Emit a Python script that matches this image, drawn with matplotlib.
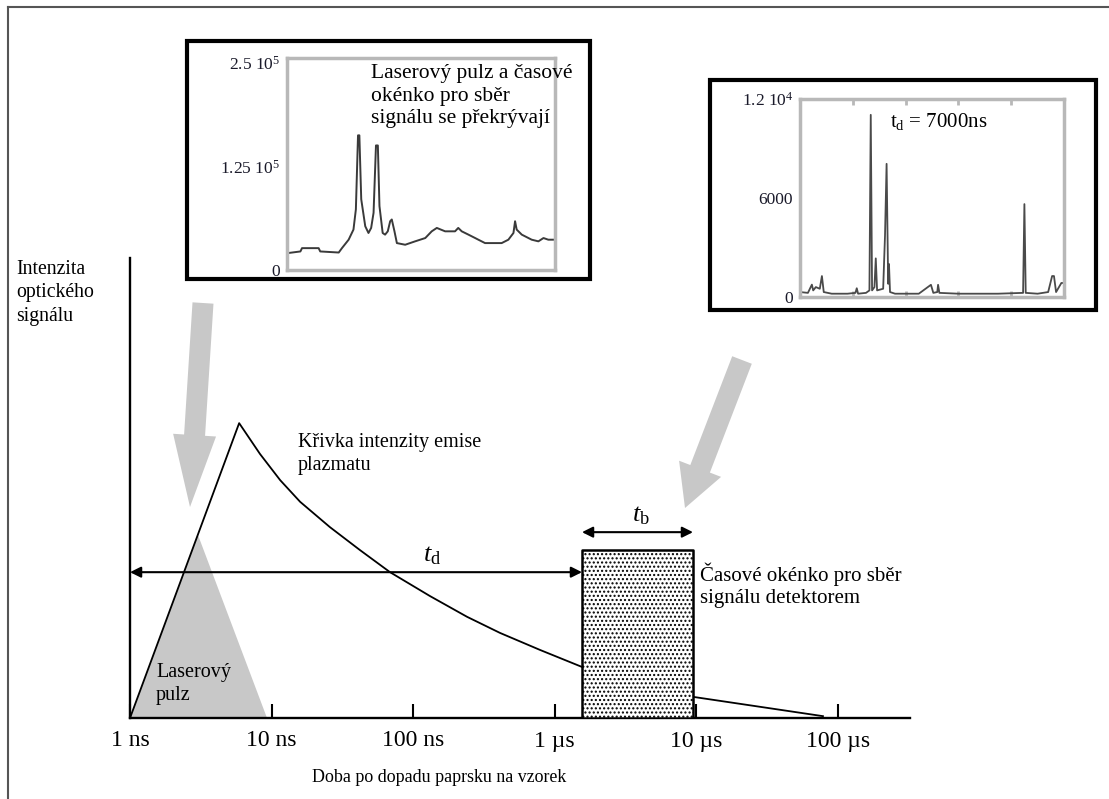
import matplotlib
matplotlib.use('Agg')
import matplotlib.pyplot as plt
import matplotlib.patches as mpatches
from matplotlib.ticker import NullLocator

plt.rcParams['font.family'] = ['Liberation Serif', 'DejaVu Serif']
plt.rcParams['mathtext.fontset'] = 'custom'
plt.rcParams['mathtext.rm'] = 'Liberation Serif'
plt.rcParams['mathtext.it'] = 'Liberation Serif:italic'
plt.rcParams['hatch.linewidth'] = 1.0

# --- hlavni schema: cas (ns, log) vs intenzita (rel.) ---
time_ticks = [1, 10, 100, 1000, 10000, 100000]
time_labels = ['1 ns', '10 ns', '100 ns', '1 µs', '10 µs', '100 µs']

plasma_t = [1, 5.9, 8.28, 11.5, 15.9, 25.8, 42.1, 68.6, 131.5, 240, 410, 786, 1556, 9460, 78300]
plasma_i = [0, 0.641, 0.574, 0.517, 0.470, 0.415, 0.365, 0.317, 0.265, 0.220, 0.185, 0.148,
            0.111, 0.046, 0.004]

laser_t = [1, 3.02, 9.28]
laser_i = [0, 0.398, 0]

gate_t = [1556, 9460]
gate_h = 0.365
td_level = 0.317
tb_level = 0.404

# --- vlozene spektrum vlevo (v tisicich) ---
spec1_x = [0, 5.0, 5.6, 11.8, 12.4, 19.3, 20.5, 23.0, 24.8, 25.7, 26.5, 27.0, 27.7, 29.2,
           30.4, 31.4, 32.3, 33.2, 33.9, 34.5, 35.7, 36.6, 37.6, 38.5, 39.1, 40.1, 41.0,
           44.1, 47.8, 51.6, 54.0, 55.9, 59.0, 62.7, 63.9, 65.2, 67.7, 70.2, 71.4, 73.9,
           80.1, 82.6, 84.5, 85.1, 85.7, 87.6, 91.3, 93.8, 95.7, 97.5, 100]
spec1_y = [20.3, 22.4, 26.4, 26.4, 22.4, 21.1, 26.4, 36.6, 48.8, 73.2, 162.6, 162.6, 85.4, 52.8,
           44.7, 50.8, 69.1, 150.4, 150.4, 77.2, 44.7, 42.7, 46.7, 58.9, 61.0, 46.7, 32.5,
           30.5, 34.6, 38.6, 46.7, 50.8, 46.7, 46.7, 50.8, 46.7, 42.7, 38.6, 36.6, 32.5,
           32.5, 36.6, 44.7, 58.9, 48.8, 42.7, 36.6, 34.6, 38.6, 36.6, 36.6]
spec1_ticks = [0, 125, 250]
spec1_labels = ['0', '1.25 $10^5$', '2.5 $10^5$']

# --- vlozene spektrum vpravo ---
spec2_x = [0, 3, 4.5, 5, 6, 7.5, 8.3, 9, 12, 18, 21, 21.5, 22, 25, 26.3, 26.8, 27.3, 28.2,
           28.7, 29.2, 31.5, 32.2, 32.8, 33.4, 33.7, 34.1, 36, 45, 49.6, 50.5, 52, 52.3,
           52.8, 60, 75, 84.5, 85, 85.5, 90, 94, 95.5, 96.2, 97, 99, 99.6, 100]
spec2_y = [300, 250, 750, 400, 600, 500, 1270, 300, 200, 200, 250, 530, 200, 250, 400,
           11040, 400, 600, 2340, 400, 500, 3720, 8070, 800, 2000, 300, 200, 200, 740, 250,
           300, 740, 250, 200, 200, 250, 5630, 250, 200, 300, 1270, 1270, 300, 850, 850, 850]
spec2_ticks = [0, 6000, 12000]
spec2_labels = ['0', '6000', '1.2 $10^4$']

W, H = 1109, 799
fig = plt.figure(figsize=(W / 100, H / 100), dpi=100)


def px_axes(x0, y0, x1, y1, **kw):
    return fig.add_axes([x0 / W, 1 - y1 / H, (x1 - x0) / W, (y1 - y0) / H], **kw)


# pozadi: sede sipky
back = px_axes(0, 0, W, H, zorder=0)
back.set_xlim(0, W)
back.set_ylim(H, 0)
back.axis('off')
back.add_patch(mpatches.FancyArrow(203, 303, 190 - 203, 507 - 303, width=21, head_width=43,
                                   head_length=72, length_includes_head=True,
                                   color='#c8c8c8', lw=0))
back.add_patch(mpatches.FancyArrow(742, 360, 685 - 742, 508 - 360, width=21, head_width=45,
                                   head_length=42, length_includes_head=True,
                                   color='#c8c8c8', lw=0))

# hlavni osy
ax = px_axes(130, 258, 910, 718, zorder=1)
ax.patch.set_alpha(0)
ax.set_xscale('log')
ax.set_xlim(1, 10 ** (780 / 141.6))
ax.set_ylim(0, 1)
ax.fill(laser_t, laser_i, color='#c8c8c8', lw=0, zorder=1)
ax.plot(plasma_t, plasma_i, color='black', lw=1.3, zorder=2)
ax.fill_between(gate_t, 0, gate_h, facecolor='white', edgecolor='black', hatch='....',
                lw=1.8, zorder=3)
arrow_kw = dict(arrowstyle='<|-|>', color='black', lw=1.5, mutation_scale=16, shrinkA=0, shrinkB=0)
ax.annotate('', xy=(1, td_level), xytext=(gate_t[0], td_level), arrowprops=arrow_kw,
            annotation_clip=False)
ax.annotate('', xy=(gate_t[0], tb_level), xytext=(gate_t[1], tb_level), arrowprops=arrow_kw,
            annotation_clip=False)

ax.set_xticks(time_ticks, time_labels)
ax.xaxis.set_minor_locator(NullLocator())
ax.set_yticks([])
ax.tick_params(axis='x', direction='in', length=10, width=1.5, labelsize=17, pad=9)
for s in ['top', 'right']:
    ax.spines[s].set_visible(False)
for s in ['left', 'bottom']:
    ax.spines[s].set_linewidth(1.7)

# vlozene grafy
in1 = px_axes(287, 58, 555, 270, zorder=4)
in1.plot(spec1_x, spec1_y, color='#3a3a3a', lw=1.4)
in1.set_xlim(0, 100)
in1.set_ylim(0, 256)
in1.set_xticks([])
in1.set_yticks(spec1_ticks, spec1_labels)

in2 = px_axes(800, 99, 1064, 297, zorder=4)
in2.plot(spec2_x, spec2_y, color='#4a4a4a', lw=1.3)
in2.set_xlim(0, 100)
in2.set_ylim(0, 12000)
in2.set_xticks([20, 40, 60, 80])
in2.set_xticklabels([])
in2.set_yticks(spec2_ticks, spec2_labels)

for a in (in1, in2):
    for s in a.spines.values():
        s.set_color('#b8b8b8')
        s.set_linewidth(2.5)
    a.tick_params(axis='y', length=0, pad=5, labelsize=12.5, labelcolor='#1a1a2a')
    a.tick_params(axis='x', length=4, width=2, color='#b8b8b8', direction='in', top=True)

# popisky a ramecky
front = px_axes(0, 0, W, H, zorder=5)
front.set_xlim(0, W)
front.set_ylim(H, 0)
front.axis('off')
front.patch.set_alpha(0)

front.plot([8, 8], [H, 7], color='#555555', lw=1.5)
front.plot([8, W], [7, 7], color='#555555', lw=1.5)
front.add_patch(mpatches.Rectangle((187, 41), 403, 238, fill=False, ec='black', lw=3))
front.add_patch(mpatches.Rectangle((710, 80), 386, 230, fill=False, ec='black', lw=3))

front.text(16, 260, 'Intenzita\noptického\nsignálu', fontsize=14.2, va='top', ha='left',
           linespacing=1.32)
front.text(298, 433, 'Křivka intenzity emise\nplazmatu', fontsize=14.5, va='top', ha='left',
           linespacing=1.32)
front.text(156, 663, 'Laserový\npulz', fontsize=14.5, va='top', ha='left', linespacing=1.32)
front.text(700, 562, 'Časové okénko pro sběr\nsignálu detektorem', fontsize=15, va='top',
           ha='left', linespacing=1.28)
front.text(312, 778, 'Doba po dopadu paprsku na vzorek', fontsize=12.9, va='center', ha='left')
front.text(432, 556, r'$t_\mathrm{d}$', fontsize=19, va='center', ha='center')
front.text(641, 516, r'$t_\mathrm{b}$', fontsize=19, va='center', ha='center')
front.text(371, 64, 'Laserový pulz a časové\nokénko pro sběr\nsignálu se překrývají',
           fontsize=15.5, va='top', ha='left', linespacing=1.26)
front.text(890, 122, r't$_\mathrm{d}$ = 7000ns', fontsize=15, va='center', ha='left')

fig.savefig('out.png', dpi=100)
